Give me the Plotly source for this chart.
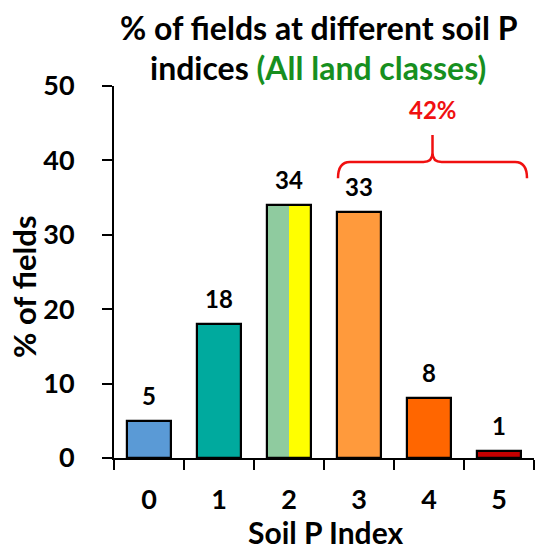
import plotly.graph_objects as go

# Soil P index categories and the share of fields in each
categories = ["0", "1", "2", "3", "4", "5"]
pct_fields = [5, 18, 34, 33, 8, 1]
bar_colors = ["#5A9AD6", "#00AA9E", "rgba(0,0,0,0)", "#FF9A3C", "#FF6600", "#C40000"]
index2_split_colors = ["#8FCB9F", "#FFFF00"]  # index 2 drawn as two coloured halves
y_ticks = [0, 10, 20, 30, 40, 50]

FONT = "Lato"
BAR_W = 0.62
bar_labels = [str(v) for v in pct_fields]

# plot area in pixels, used to place paper-referenced text
W, H, L, R, T, B = 542, 552, 114, 8, 86, 94
PLOT_W = W - L - R
PLOT_H = H - T - B


def paper_y(px_from_top):
    return (H - B - px_from_top) / PLOT_H


def paper_x(px_from_left):
    return (px_from_left - L) / PLOT_W


fig = go.Figure()

# two filled halves for index 2 (no outline), drawn underneath the outlined bars
i2 = categories.index("2")
for k, col in enumerate(index2_split_colors):
    fig.add_trace(go.Bar(
        x=[categories[i2]], y=[pct_fields[i2]],
        width=BAR_W / 2, offset=-BAR_W / 2 + k * BAR_W / 2,
        marker=dict(color=col, line=dict(width=0)),
        hoverinfo="skip", showlegend=False,
    ))

# main bars with black outlines
fig.add_trace(go.Bar(
    x=categories, y=pct_fields,
    width=BAR_W, offset=-BAR_W / 2,
    marker=dict(color=bar_colors, line=dict(color="black", width=2.2)),
    showlegend=False,
))

# value labels above each bar
for cat, val, lab in zip(categories, pct_fields, bar_labels):
    fig.add_annotation(x=cat, y=val, xref="x", yref="y", text=lab,
                       showarrow=False, yanchor="bottom", yshift=9,
                       font=dict(family=FONT, size=24, color="black", weight="bold"))

# red curly brace over indices 3-5 with their combined share
high = categories[3:]
share_high = sum(pct_fields[3:])
xl = categories.index(high[0]) - 0.30
xr = categories.index(high[-1]) + 0.40
xc = (xl + xr) / 2
y_end, y_h, y_tip = 37.6, 39.8, 43.4
dx, cx, cy = 0.17, 0.13, 1.2
brace = (
    f"M {xl},{y_end} Q {xl},{y_h} {xl + dx},{y_h} L {xc - cx},{y_h} "
    f"Q {xc},{y_h} {xc},{y_h + cy} L {xc},{y_tip} "
    f"M {xc},{y_h + cy} Q {xc},{y_h} {xc + cx},{y_h} L {xr - dx},{y_h} "
    f"Q {xr},{y_h} {xr},{y_end}"
)
fig.add_shape(type="path", path=brace, xref="x", yref="y",
              line=dict(color="#F01010", width=2.5))
fig.add_annotation(x=xc, y=46.8, xref="x", yref="y", text=f"{share_high}%",
                   showarrow=False,
                   font=dict(family=FONT, size=24, color="#F01010", weight="bold"))

# two-line title
fig.add_annotation(x=paper_x(319), y=paper_y(28), xref="paper", yref="paper", yanchor="middle",
                   text="% of fields at different soil P", showarrow=False,
                   font=dict(family=FONT, size=32, color="black", weight="bold"))
fig.add_annotation(x=paper_x(318), y=paper_y(67), xref="paper", yref="paper", yanchor="middle",
                   text="indices <span style='color:#178F1F'>(All land classes)</span>",
                   showarrow=False,
                   font=dict(family=FONT, size=32, color="black", weight="bold"))

# axis titles
fig.add_annotation(x=paper_x(24), y=paper_y(287), xref="paper", yref="paper",
                   xanchor="center", yanchor="middle", textangle=-90,
                   text="% of fields", showarrow=False,
                   font=dict(family=FONT, size=31, color="black", weight="bold"))
fig.add_annotation(x=paper_x(325), y=paper_y(552), xref="paper", yref="paper",
                   xanchor="center", yanchor="bottom",
                   text="Soil P Index", showarrow=False,
                   font=dict(family=FONT, size=30, color="black", weight="bold"))

fig.update_layout(
    width=W, height=H,
    margin=dict(l=L, r=R, t=T, b=B, autoexpand=False),
    paper_bgcolor="white", plot_bgcolor="white",
    barmode="overlay", bargap=0,
    xaxis=dict(
        type="category", categoryorder="array", categoryarray=categories,
        range=[-0.5, 5.5], tickson="boundaries", automargin=False,
        showline=True, linecolor="black", linewidth=2,
        ticks="outside", ticklen=10, tickwidth=2, tickcolor="black",
        ticklabelstandoff=17,
        showgrid=False, zeroline=False,
        tickfont=dict(family=FONT, size=27, color="black", weight="bold"),
    ),
    yaxis=dict(
        range=[0, 50], tickvals=y_ticks, automargin=False,
        showline=True, linecolor="black", linewidth=2,
        ticks="outside", ticklen=10, tickwidth=2, tickcolor="black",
        ticklabelstandoff=22,
        showgrid=False, zeroline=False,
        tickfont=dict(family=FONT, size=27, color="black", weight="bold"),
    ),
)

fig.write_html("out.html")
